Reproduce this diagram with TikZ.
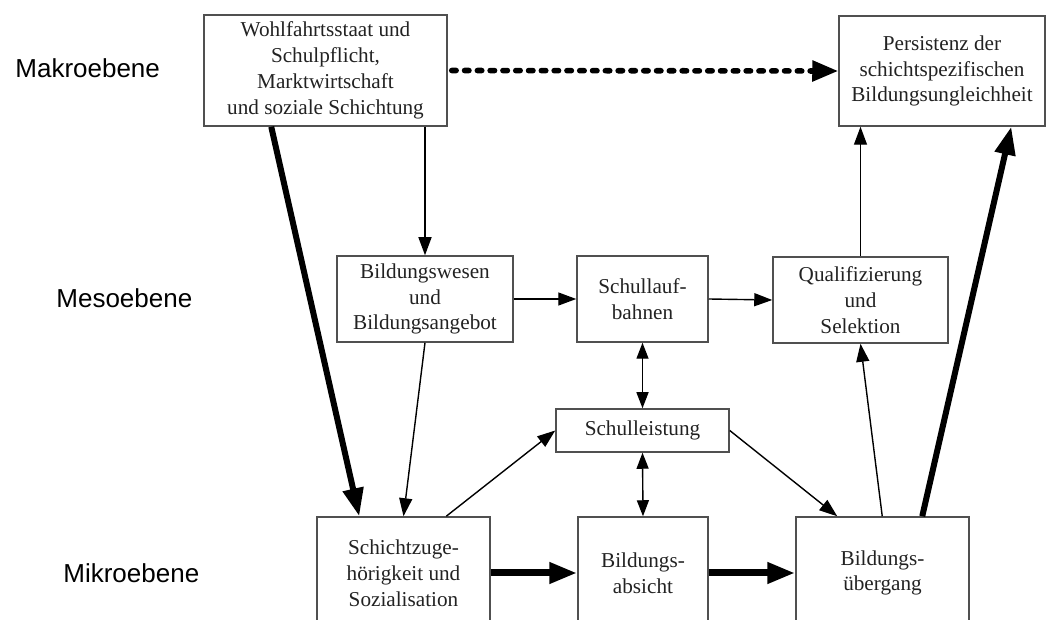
\documentclass[tikz,border=0pt]{standalone}
\usepackage{fontspec}
\setmainfont{Liberation Serif}
\newfontfamily\ebenefont{Liberation Sans}
\usepackage{tikz}
\usetikzlibrary{arrows.meta, calc}
\definecolor{rahmen}{HTML}{505050}
\definecolor{schrift}{HTML}{222222}
\tikzset{
  kasten/.style 2 args={draw=rahmen, line width=0.75pt, inner sep=0pt, align=center,
    text=schrift, minimum width=#1, minimum height=#2,
    font=\fontsize{10.6}{12.9}\selectfont},
  ebene/.style={anchor=west, inner sep=0pt, font=\ebenefont\fontsize{13}{15}\selectfont},
  pfeil/.style={line width=0.7pt, -{Triangle[length=9pt, width=6.5pt]}},
  doppelpfeil/.style={line width=0.7pt, {Triangle[length=8pt, width=6pt]}-{Triangle[length=8pt, width=6pt]}},
  dickpfeil/.style={line width=3pt, -{Triangle[length=14pt, width=10pt]}},
  punktpfeil/.style={line width=2.8pt, line cap=round, dash pattern=on 2.2pt off 4.2pt,
    shorten <=2pt, -{Triangle[length=13pt, width=10pt]}}
}
\begin{document}
\begin{tikzpicture}[x=0.5pt, y=-0.5pt]
    \useasboundingbox (0,0) rectangle (1046,620);
    \clip (0,0) rectangle (1046,620);
    % Ebenen
    \node[ebene] (makro) at (15,68) {Makroebene};
    \node[ebene] (meso) at (56,298) {Mesoebene};
    \node[ebene] (mikro) at (63,573) {Mikroebene};
    % Kaesten
    \node[kasten={121.5pt}{55.5pt}] (wohl) at (325.5,70.5) {Wohlfahrtsstaat und\\Schulpflicht,\\Marktwirtschaft\\und soziale Schichtung};
    \node[kasten={103pt}{55pt}] (pers) at (942,71) {Persistenz der\\schichtspezifischen\\Bildungsungleichheit};
    \node[kasten={88pt}{43pt}] (bwes) at (425,299) {Bildungswesen\\und\\Bildungsangebot};
    \node[kasten={65.5pt}{43pt}] (slb) at (642.5,299) {Schullauf-\\bahnen};
    \node[kasten={87.5pt}{43pt}] (qual) at (860.5,300) {Qualifizierung\\und\\Selektion};
    \node[kasten={86.5pt}{21.5pt}] (sleist) at (642.5,430.5) {Schulleistung};
    \node[kasten={86.5pt}{56pt}] (schicht) at (403.5,573) {Schichtzuge-\\hörigkeit und\\Sozialisation};
    \node[kasten={65pt}{56pt}] (absicht) at (643,573) {Bildungs-\\absicht};
    \node[kasten={86.5pt}{56pt}] (ueber) at (882.5,573) {Bildungs-\\übergang};
    % Pfeile
    \draw[punktpfeil] (wohl.east) -- (pers.west);
    \draw[pfeil] (wohl.south -| bwes.north) -- (bwes.north);
    \draw[dickpfeil] ($(wohl.south west)+(68,0)$) -- ($(schicht.north west)+(43,0)$);
    \draw[pfeil] (bwes.south) -- (schicht.north);
    \draw[pfeil] (bwes.east) -- (slb.west);
    \draw[pfeil] (slb.east) -- (qual.west);
    \draw[pfeil] (qual.north) -- (qual.north |- pers.south);
    \draw[doppelpfeil] (slb.south) -- (sleist.north);
    \draw[doppelpfeil] (sleist.south) -- (absicht.north);
    \draw[pfeil] ($(schicht.north west)+(130,0)$) -- (sleist.west);
    \draw[pfeil] (sleist.east) -- ($(ueber.north west)+(42,0)$);
    \draw[pfeil] ($(ueber.north west)+(87,0)$) -- (qual.south);
    \draw[dickpfeil] ($(ueber.north west)+(127,0)$) -- ($(pers.south west)+(173,0)$);
    \draw[dickpfeil, line width=3.5pt] (schicht.east) -- (absicht.west);
    \draw[dickpfeil, line width=3.5pt] (absicht.east) -- (ueber.west);
\end{tikzpicture}
\end{document}
